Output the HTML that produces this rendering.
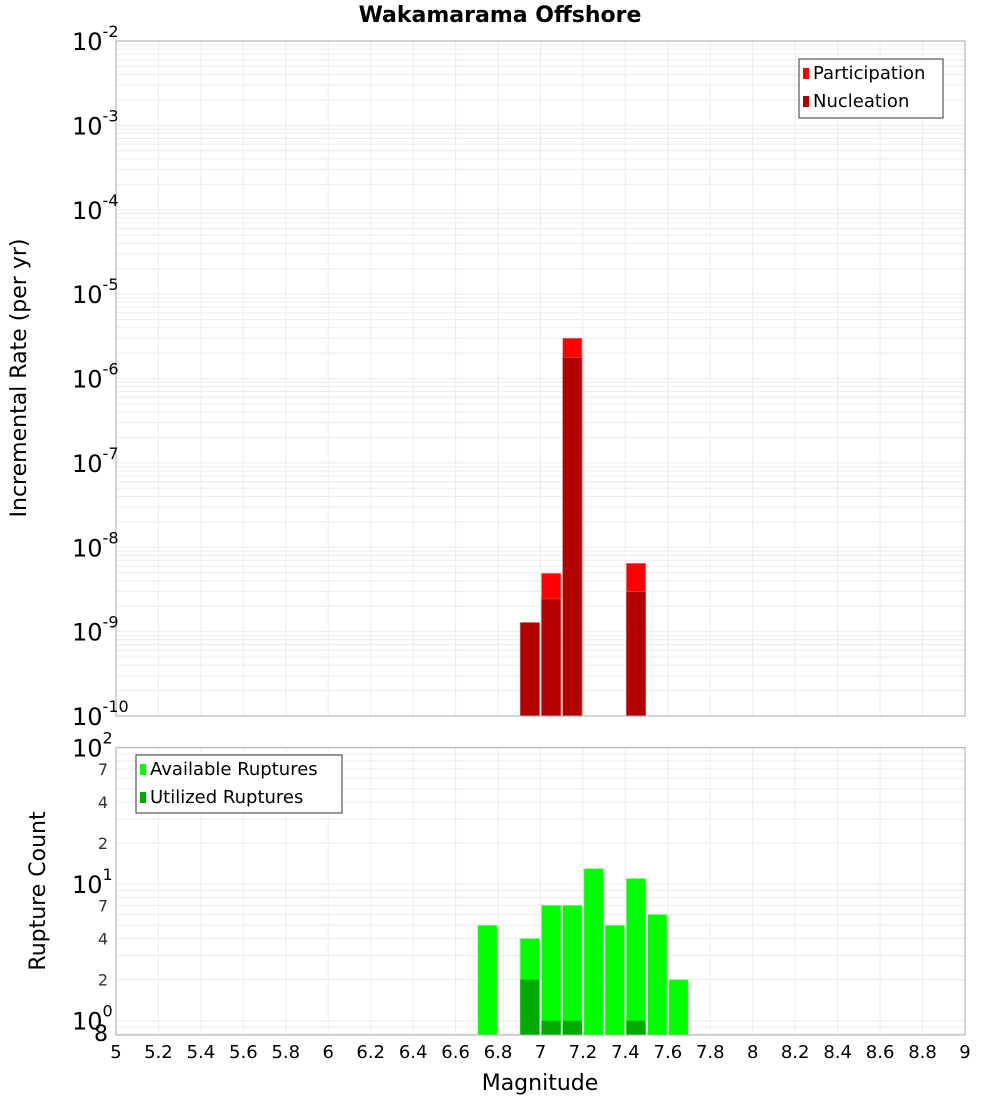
<!DOCTYPE html>
<html><head><meta charset="utf-8"><style>
body{margin:0;background:#fff;font-family:"Liberation Sans","DejaVu Sans",sans-serif}
svg text{font-family:"DejaVu Sans","Liberation Sans",sans-serif}
</style></head><body>
<svg id="chart" width="1000" height="1100" xmlns="http://www.w3.org/2000/svg">
<text x="500" y="22" text-anchor="middle" font-size="22" font-weight="bold">Wakamarama Offshore</text>
<text transform="translate(26,378) rotate(-90)" text-anchor="middle" font-size="22">Incremental Rate (per yr)</text>
<text transform="translate(45,891) rotate(-90)" text-anchor="middle" font-size="22">Rupture Count</text>
<text x="540" y="1090" text-anchor="middle" font-size="22">Magnitude</text>
<g id="topg"></g><g id="botg"></g><g id="xtg"></g>
</svg>
<script>
const partBins=[6.9,7.0,7.1,7.4];
const participation=[1.28e-9,4.9e-9,3.0e-6,6.45e-9];
const nucleation=[1.28e-9,2.44e-9,1.78e-6,2.97e-9];
const availBins=[6.7,6.9,7.0,7.1,7.2,7.3,7.4,7.5,7.6];
const available=[5,4,7,7,13,5,11,6,2];
const utilBins=[6.9,7.0,7.1,7.4];
const utilized=[2,1,1,1];
const xTicks=[5,5.2,5.4,5.6,5.8,6,6.2,6.4,6.6,6.8,7,7.2,7.4,7.6,7.8,8,8.2,8.4,8.6,8.8,9];
const topExps=[-10,-9,-8,-7,-6,-5,-4,-3,-2];
const botTickVals=[2,4,7,20,40,70];
const botTickLabels=['2','4','7','2','4','7'];

const NS='http://www.w3.org/2000/svg';
const X0=116,X1=965;
const xs=m=>X0+(m-5)/4*(X1-X0);
const TY0=41,TY1=716;
const ty=v=>TY1-(Math.log10(v)+10)/8*(TY1-TY0);
const BY0=747.7,BY1=1035,BD=136.5;
const by=v=>1020.7-Math.log10(v)*BD;
function el(p,t,a,txt){const e=document.createElementNS(NS,t);for(const k in a)e.setAttribute(k,a[k]);if(txt!=null)e.textContent=txt;p.appendChild(e);return e;}
const gTop=document.getElementById('topg'),gBot=document.getElementById('botg'),gX=document.getElementById('xtg');

el(gTop,'rect',{x:X0,y:TY0,width:X1-X0,height:TY1-TY0,fill:'#fff'});
el(gBot,'rect',{x:X0,y:BY0,width:X1-X0,height:BY1-BY0,fill:'#fff'});
xTicks.forEach(t=>{
 el(gTop,'line',{x1:xs(t),x2:xs(t),y1:TY0,y2:TY1,stroke:'#ececec'});
 el(gBot,'line',{x1:xs(t),x2:xs(t),y1:BY0,y2:BY1,stroke:'#ececec'});
});
for(let e=-10;e<-2;e++)for(let k=1;k<10;k++){const y=ty(k*Math.pow(10,e));el(gTop,'line',{x1:X0,x2:X1,y1:y,y2:y,stroke:'#ececec'});}
for(let e=-1;e<2;e++)for(let k=1;k<10;k++){const v=k*Math.pow(10,e);const y=by(v);if(y>BY1||y<BY0)continue;el(gBot,'line',{x1:X0,x2:X1,y1:y,y2:y,stroke:'#ececec'});}

partBins.forEach((b,i)=>{const r=el(gTop,'rect',{x:xs(b)+1,y:ty(participation[i]),width:xs(b+0.1)-xs(b)-2,height:TY1-ty(participation[i]),fill:'#ff0000',stroke:'#ff8080','stroke-width':0.6});

});
partBins.forEach((b,i)=>{const r=el(gTop,'rect',{x:xs(b)+1,y:ty(nucleation[i]),width:xs(b+0.1)-xs(b)-2,height:TY1-ty(nucleation[i]),fill:'#b30000',stroke:'#d06060','stroke-width':0.6});

});
availBins.forEach((b,i)=>{const r=el(gBot,'rect',{x:xs(b)+1,y:by(available[i]),width:xs(b+0.1)-xs(b)-2,height:BY1-by(available[i]),fill:'#00ff00',stroke:'#80ff80','stroke-width':0.6});

});
utilBins.forEach((b,i)=>{const r=el(gBot,'rect',{x:xs(b)+1,y:by(utilized[i]),width:xs(b+0.1)-xs(b)-2,height:BY1-by(utilized[i]),fill:'#00aa00'});

});

el(gTop,'rect',{x:X0,y:TY0,width:X1-X0,height:TY1-TY0,fill:'none',stroke:'#aaa'});
el(gBot,'rect',{x:X0,y:BY0,width:X1-X0,height:BY1-BY0,fill:'none',stroke:'#aaa'});

topExps.forEach(e=>{const y=ty(Math.pow(10,e));
 const t=el(gTop,'text',{x:72,y:y+9,'font-size':24});
 
 
 el(t,'tspan',{},'10');el(t,'tspan',{dy:-13,'font-size':16},String(e));});
[[0,1],[1,10],[2,100]].forEach(([e,v])=>{const y=by(v);
 const t=el(gBot,'text',{x:72,y:y+9,'font-size':24});
 
 
 el(t,'tspan',{},'10');el(t,'tspan',{dy:-13,'font-size':16},String(e));});
botTickVals.forEach((v,i)=>{const t=el(gBot,'text',{x:108,y:by(v)+6,'font-size':16,'text-anchor':'end',fill:'#333'},botTickLabels[i]);
 
 });
{const t=el(gBot,'text',{x:108,y:1041,'font-size':22,'text-anchor':'end'},'8');
 
 }
xTicks.forEach(v=>{const t=el(gX,'text',{x:xs(v),y:1058,'font-size':18,'text-anchor':'middle'},String(v));
 
 });

function legend(p,x,y,w,h,items,name){const g=el(p,'g',{});
 
 
 el(g,'rect',{x:x,y:y,width:w,height:h,fill:'#fff',stroke:'#333'});
 items.forEach(([c,l],i)=>{el(g,'rect',{x:x+4,y:y+9+i*28,width:6,height:11,fill:c});
 el(g,'text',{x:x+14,y:y+20+i*28,'font-size':18},l);});}
legend(gTop,799,59,144,59,[['#ff0000','Participation'],['#b30000','Nucleation']],'top-legend');
legend(gBot,136,755,206,58,[['#00ff00','Available Ruptures'],['#00aa00','Utilized Ruptures']],'bottom-legend');
</script>
</body></html>
